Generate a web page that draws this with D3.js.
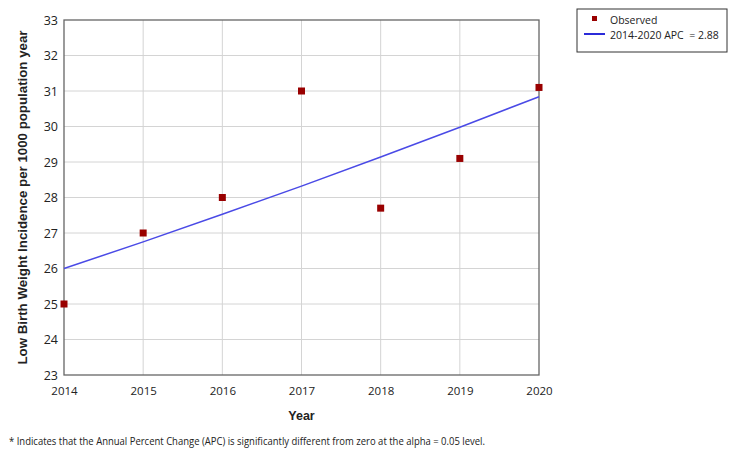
<!DOCTYPE html>
<html>
<head>
<meta charset="utf-8">
<script src="https://cdn.jsdelivr.net/npm/d3@7"></script>
<style>
  body { margin: 0; background: #fff; }
  text { font-family: "Open Sans", "DejaVu Sans", sans-serif; fill: #222; }
  .grid line { stroke: #d4d4d4; stroke-width: 1; }
  .axis path, .axis line { display: none; }
</style>
</head>
<body>
<div id="chart"></div>
<script>
var years = [2014, 2015, 2016, 2017, 2018, 2019, 2020];
var observed = [25.0, 27.0, 28.0, 31.0, 27.7, 29.1, 31.1];
var fitted = [26.0, 26.75, 27.53, 28.32, 29.14, 29.98, 30.84];
var yTicks = [23, 24, 25, 26, 27, 28, 29, 30, 31, 32, 33];
var legendLabels = ['Observed', '2014-2020 APC  = 2.88'];

var width = 730, height = 456;
var margin = { top: 20, bottom: 81, left: 64, right: 191 };

var svg = d3.select('#chart')
    .append('svg')
    .attr('width', width)
    .attr('height', height);

var innerW = width - margin.left - margin.right;
var innerH = height - margin.top - margin.bottom;

var g = svg.append('g')
    .attr('transform', 'translate(' + margin.left + ',' + margin.top + ')');

var x_scale = d3.scaleLinear()
    .domain([2014, 2020])
    .range([0, innerW]);

var y_scale = d3.scaleLinear()
    .domain([23, 33])
    .range([innerH, 0]);

// grid
g.append('g')
    .attr('class', 'grid')
    .selectAll('line.h')
    .data(yTicks.slice(1, -1))
    .enter()
    .append('line')
    .attr('x1', 0)
    .attr('x2', innerW)
    .attr('y1', function (d) { return y_scale(d); })
    .attr('y2', function (d) { return y_scale(d); });

g.append('g')
    .attr('class', 'grid')
    .selectAll('line.v')
    .data(years.slice(1, -1))
    .enter()
    .append('line')
    .attr('y1', 0)
    .attr('y2', innerH)
    .attr('x1', function (d) { return x_scale(d); })
    .attr('x2', function (d) { return x_scale(d); });

// frame
g.append('rect')
    .attr('x', 0)
    .attr('y', 0)
    .attr('width', innerW)
    .attr('height', innerH)
    .attr('fill', 'none')
    .attr('stroke', '#666')
    .attr('stroke-width', 1.3);

var y_axis = d3.axisLeft(y_scale).tickValues(yTicks).tickSize(0).tickPadding(6);
var x_axis = d3.axisBottom(x_scale).tickValues(years).tickSize(0).tickPadding(12)
    .tickFormat(d3.format('d'));

g.append('g')
    .attr('class', 'y axis')
    .call(y_axis)
    .selectAll('text')
    .style('font-size', '12.5px');

g.append('g')
    .attr('class', 'x axis')
    .attr('transform', 'translate(0,' + innerH + ')')
    .call(x_axis)
    .selectAll('text')
    .style('font-size', '11.5px');

// fitted line
var line = d3.line()
    .x(function (d, i) { return x_scale(years[i]); })
    .y(function (d) { return y_scale(d); });

g.append('path')
    .datum(fitted)
    .attr('d', line)
    .attr('fill', 'none')
    .attr('stroke', '#4a4ae6')
    .attr('stroke-width', 1.5);

// observed points
g.selectAll('.pt')
    .data(observed)
    .enter()
    .append('rect')
    .attr('class', 'pt')
    .attr('x', function (d, i) { return x_scale(years[i]) - 3.5; })
    .attr('y', function (d) { return y_scale(d) - 3.5; })
    .attr('width', 7)
    .attr('height', 7)
    .attr('fill', '#990000');

// axis titles
svg.append('text')
    .attr('transform', 'translate(27,' + (margin.top + innerH / 2) + ') rotate(-90)')
    .attr('text-anchor', 'middle')
    .attr('textLength', 334)
    .attr('lengthAdjust', 'spacingAndGlyphs')
    .style('font-family', '"Liberation Sans", Arial, sans-serif')
    .style('font-weight', 'bold')
    .style('font-size', '13px')
    .text('Low Birth Weight Incidence per 1000 population year');

svg.append('text')
    .attr('x', margin.left + innerW / 2)
    .attr('y', 420)
    .attr('text-anchor', 'middle')
    .style('font-family', '"Liberation Sans", Arial, sans-serif')
    .style('font-weight', 'bold')
    .style('font-size', '12.5px')
    .text('Year');

svg.append('text')
    .attr('x', 9)
    .attr('y', 445)
    .attr('textLength', 476)
    .attr('lengthAdjust', 'spacingAndGlyphs')
    .style('font-size', '10px')
    .text('* Indicates that the Annual Percent Change (APC) is significantly different from zero at the alpha = 0.05 level.');

// legend
var legend = svg.append('g').attr('transform', 'translate(577,9)');
legend.append('rect')
    .attr('width', 150)
    .attr('height', 43)
    .attr('fill', '#fff')
    .attr('stroke', '#333')
    .attr('stroke-width', 1);
legend.append('rect')
    .attr('x', 15)
    .attr('y', 7)
    .attr('width', 5)
    .attr('height', 5)
    .attr('fill', '#990000');
legend.append('line')
    .attr('x1', 7)
    .attr('x2', 28)
    .attr('y1', 25)
    .attr('y2', 25)
    .attr('stroke', '#2b2bd9')
    .attr('stroke-width', 2);
legend.selectAll('.lt')
    .data(legendLabels)
    .enter()
    .append('text')
    .attr('class', 'lt')
    .attr('x', 33)
    .attr('y', function (d, i) { return 15 + i * 15; })
    .style('font-size', '10.5px')
    .style('white-space', 'pre')
    .text(function (d) { return d; });
</script>
</body>
</html>
